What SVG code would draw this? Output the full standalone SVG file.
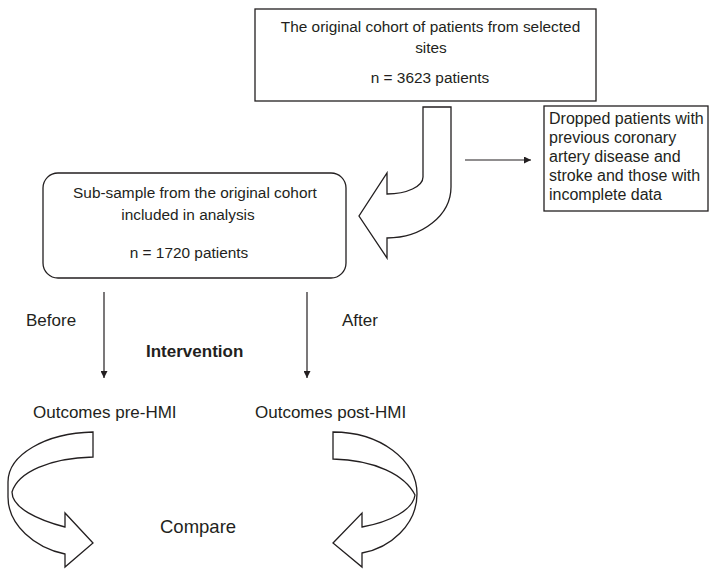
<svg xmlns="http://www.w3.org/2000/svg" width="711" height="578" viewBox="0 0 711 578">
<defs>
<marker id="ah" viewBox="0 0 10 10" refX="10" refY="5" markerWidth="7" markerHeight="7" markerUnits="userSpaceOnUse" orient="auto">
<path d="M0,0 L10,5 L0,10 Z" fill="#231f20"/>
</marker>
<style>
.box{fill:#fff;stroke:#231f20;stroke-width:1.3}
.t{font-family:"Liberation Sans",Arial,sans-serif;fill:#231f20}
.s15{font-size:15.4px}
.s16{font-size:16px}
.s17{font-size:17px}
.ln{stroke:#231f20;stroke-width:1.2;fill:none}
.sh{fill:#fff;stroke:#231f20;stroke-width:1.3;stroke-linejoin:miter}
</style>
</defs>
<rect width="711" height="578" fill="#fff"/>
<g id="original-cohort">
<rect class="box" x="255" y="9" width="341" height="92"/>
<text class="t s15" x="430.5" y="32" text-anchor="middle">The original cohort of patients from selected</text>
<text class="t s15" x="431" y="53" text-anchor="middle">sites</text>
<text class="t s15" x="430" y="83" text-anchor="middle">n = 3623 patients</text>
</g>
<g id="dropped">
<rect class="box" x="544" y="106" width="164" height="105"/>
<text class="t s16" x="549" y="124">Dropped patients with</text>
<text class="t s16" x="549" y="143">previous coronary</text>
<text class="t s16" x="549" y="162">artery disease and</text>
<text class="t s16" x="549" y="181">stroke and those with</text>
<text class="t s16" x="549" y="200">incomplete data</text>
</g>
<g id="sub-sample">
<rect class="box" x="43" y="173" width="303" height="105" rx="15" ry="15"/>
<text class="t s15" x="195" y="198" text-anchor="middle">Sub-sample from the original cohort</text>
<text class="t s15" x="188" y="220" text-anchor="middle">included in analysis</text>
<text class="t s15" x="189" y="258" text-anchor="middle">n = 1720 patients</text>
</g>
<g id="labels">
<text class="t s17" x="26" y="326">Before</text>
<text class="t s17" x="342" y="326">After</text>
<text class="t s17" x="146" y="357" font-weight="bold">Intervention</text>
</g>
<g id="outcomes-pre">
<text class="t s17" x="33" y="418">Outcomes pre-HMI</text>
</g>
<g id="outcomes-post">
<text class="t s17" x="255" y="418">Outcomes post-HMI</text>
</g>
<g id="compare">
<text class="t" x="160" y="533" font-size="18.5">Compare</text>
</g>
<g id="connectors">
<path class="sh" d="M423,107 H451 V187 A64,51 0 0 1 387,238 V258 L359,216 L387,173 V194 A36,17 0 0 0 423,177 Z"/>
<line class="ln" x1="465" y1="160" x2="531" y2="160" marker-end="url(#ah)"/>
<line class="ln" x1="104" y1="292" x2="104" y2="378" marker-end="url(#ah)"/>
<line class="ln" x1="307" y1="292" x2="307" y2="378" marker-end="url(#ah)"/>
<path class="sh" d="M93,432 C45,433 8,455 8,482 V497 C8,525 35,548 65,554 V567 L93,543 L65,513 V527 C38,520 12,508 12,492 C18,472 50,458 93,457 Z"/>
<path class="sh" d="M333,432 C380,432 417,460 417,494 C417,525 390,548 362,553 V567 L333,543 L362,513 V527 C390,522 413,510 415,495 C405,475 375,460 333,459 Z"/>
</g>
</svg>
